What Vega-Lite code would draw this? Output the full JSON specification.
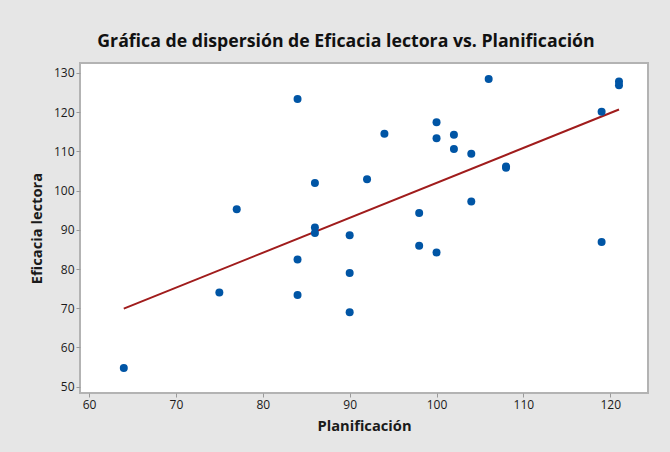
{
  "$schema": "https://vega.github.io/schema/vega-lite/v6.json",
  "width": 568,
  "height": 330,
  "autosize": {"type": "none"},
  "padding": {"left": 80, "top": 63, "right": 22, "bottom": 59},
  "background": "#e6e6e6",
  "title": {
    "text": "Gráfica de dispersión de Eficacia lectora vs. Planificación",
    "font": "Open Sans",
    "fontSize": 17.7,
    "fontWeight": "bold",
    "color": "#111111",
    "anchor": "middle",
    "dx": -18,
    "offset": 12
  },
  "config": {
    "view": {"fill": "white", "stroke": "#b3b3b3", "strokeWidth": 2},
    "axis": {
      "grid": false,
      "domain": false,
      "tickColor": "#9a9a9a",
      "tickSize": 4,
      "labelFont": "Open Sans",
      "labelFontSize": 12,
      "labelColor": "#1a1a1a",
      "labelPadding": 2,
      "titleFont": "Open Sans",
      "titleFontSize": 14.7,
      "titleFontWeight": "bold",
      "titleColor": "#1a1a1a"
    }
  },
  "datasets": {
    "pts": [
      {"Planificacion": 64, "Eficacia": 54.8},
      {"Planificacion": 75, "Eficacia": 74.0},
      {"Planificacion": 77, "Eficacia": 95.2},
      {"Planificacion": 84, "Eficacia": 123.3},
      {"Planificacion": 84, "Eficacia": 82.4},
      {"Planificacion": 84, "Eficacia": 73.4},
      {"Planificacion": 86, "Eficacia": 101.9},
      {"Planificacion": 86, "Eficacia": 90.6},
      {"Planificacion": 86, "Eficacia": 89.2},
      {"Planificacion": 90, "Eficacia": 88.6},
      {"Planificacion": 90, "Eficacia": 79.0},
      {"Planificacion": 90, "Eficacia": 69.0},
      {"Planificacion": 92, "Eficacia": 102.9},
      {"Planificacion": 94, "Eficacia": 114.5},
      {"Planificacion": 98, "Eficacia": 94.3},
      {"Planificacion": 98, "Eficacia": 85.9},
      {"Planificacion": 100, "Eficacia": 117.4},
      {"Planificacion": 100, "Eficacia": 113.3},
      {"Planificacion": 100, "Eficacia": 84.2},
      {"Planificacion": 102, "Eficacia": 114.2},
      {"Planificacion": 102, "Eficacia": 110.6},
      {"Planificacion": 104, "Eficacia": 109.4},
      {"Planificacion": 104, "Eficacia": 97.2},
      {"Planificacion": 106, "Eficacia": 128.4},
      {"Planificacion": 108, "Eficacia": 106.1},
      {"Planificacion": 108, "Eficacia": 105.8},
      {"Planificacion": 119, "Eficacia": 120.1},
      {"Planificacion": 119, "Eficacia": 86.9},
      {"Planificacion": 121, "Eficacia": 127.8},
      {"Planificacion": 121, "Eficacia": 126.8}
    ],
    "fit": [
      {"Planificacion": 64, "Eficacia": 69.9},
      {"Planificacion": 121, "Eficacia": 120.65}
    ]
  },
  "layer": [
    {
      "data": {"name": "fit"},
      "mark": {"type": "line", "color": "#a01c1c", "strokeWidth": 2},
      "encoding": {
        "x": {"field": "Planificacion", "type": "quantitative"},
        "y": {"field": "Eficacia", "type": "quantitative"}
      }
    },
    {
      "data": {"name": "pts"},
      "mark": {"type": "circle", "color": "#0055a5", "size": 64, "opacity": 1},
      "encoding": {
        "x": {
          "field": "Planificacion",
          "type": "quantitative",
          "title": "Planificación",
          "scale": {"domain": [58.96, 124.34], "nice": false, "zero": false},
          "axis": {"values": [60, 70, 80, 90, 100, 110, 120], "titlePadding": 8}
        },
        "y": {
          "field": "Eficacia",
          "type": "quantitative",
          "title": "Eficacia lectora",
          "scale": {"domain": [48.4, 132.5], "nice": false, "zero": false},
          "axis": {"values": [50, 60, 70, 80, 90, 100, 110, 120, 130], "titlePadding": 9}
        }
      }
    }
  ]
}
